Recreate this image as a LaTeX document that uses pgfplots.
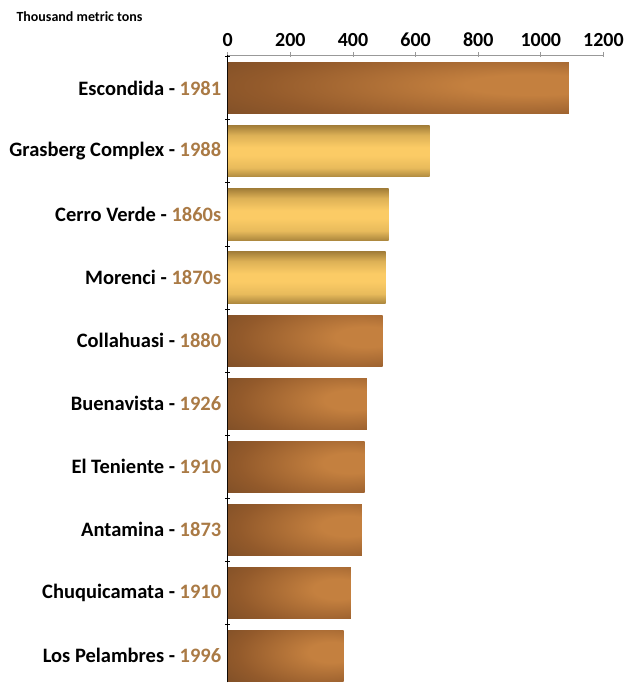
\documentclass[border=0pt]{standalone}
\usepackage{pgfplots}
\pgfplotsset{compat=1.18}
\usepackage{fontspec}
\setmainfont{Carlito}

\definecolor{yearc}{HTML}{AA7A45}
\definecolor{brdark}{HTML}{6A4323}
\definecolor{brmid}{HTML}{935A2B}
\definecolor{brlight}{HTML}{C4803F}
\definecolor{goldtop}{HTML}{A5803A}
\definecolor{goldbot}{HTML}{AE893F}
\definecolor{goldlight}{HTML}{FBCB65}

\pgfdeclareradialshading{brownbar}{\pgfpoint{22bp}{4bp}}{%
  color(0bp)=(brlight); color(10bp)=(brlight); color(35bp)=(brmid); color(60bp)=(brdark); color(100bp)=(brdark)}
\pgfdeclareverticalshading{goldbar}{100bp}{%
  color(0bp)=(goldbot); color(25bp)=(goldbot); color(34bp)=(goldlight!75!goldbot); color(46bp)=(goldlight); color(54bp)=(goldlight); color(66bp)=(goldlight!65!goldtop); color(75bp)=(goldtop); color(100bp)=(goldtop)}

\newcommand{\yr}[1]{\textcolor{yearc}{#1}}

\begin{document}
\begin{tikzpicture}
\begin{axis}[
  scale only axis,
  width=376pt, height=628pt,
  xmin=0, xmax=1200,
  ymin=-0.42, ymax=9.53,
  axis x line*=top,
  axis y line*=left,
  x axis line style={-, draw=gray!80, line width=0.7pt},
  y axis line style={-, draw=black, line width=1.3pt},
  xtick={0,200,...,1200},
  ytick={-0.5,0.5,...,9.5},
  yticklabels={},
  tick align=center,
  major tick length=5pt,
  xtick style={draw=gray!80, line width=0.7pt},
  ytick style={draw=black, line width=1pt},
  extra y ticks={0,1,...,9},
  extra y tick labels={
    {Los Pelambres - \yr{1996}},
    {Chuquicamata - \yr{1910}},
    {Antamina - \yr{1873}},
    {El Teniente - \yr{1910}},
    {Buenavista - \yr{1926}},
    {Collahuasi - \yr{1880}},
    {Morenci - \yr{1870s}},
    {Cerro Verde - \yr{1860s}},
    {Grasberg Complex - \yr{1988}},
    {Escondida - \yr{1981}}},
  extra y tick style={major tick length=0pt, tick style={draw=none}},
  yticklabel style={font=\bfseries\fontsize{20.5}{20.5}\selectfont, xshift=-3pt},
  xticklabel style={font=\bfseries\fontsize{20}{20}\selectfont, yshift=2pt},
  /pgf/number format/assume math mode=true,
  /pgf/number format/1000 sep={},
  scaled x ticks=false,
  clip=false,
  brown/.style={xbar, bar shift=0pt, bar width=0.81, draw=none, shade, shading=brownbar},
  gold/.style={xbar, bar shift=0pt, bar width=0.81, draw=none, shade, shading=goldbar},
]
% brown bars
\addplot[brown] coordinates {(1090,9)};
\addplot[brown] coordinates {(495,5)};
\addplot[brown] coordinates {(444,4)};
\addplot[brown] coordinates {(437,3)};
\addplot[brown] coordinates {(428,2)};
\addplot[brown] coordinates {(393,1)};
\addplot[brown] coordinates {(370,0)};
% gold bars
\addplot[gold] coordinates {(645,8)};
\addplot[gold] coordinates {(514,7)};
\addplot[gold] coordinates {(504,6)};
\end{axis}
\node[anchor=base west, font=\bfseries\fontsize{14}{14}\selectfont]
  at ([xshift=-215pt, yshift=33pt]current axis.north west) {Thousand metric tons};
\path ([xshift=-228pt, yshift=55pt]current axis.north west) rectangle ([xshift=25pt]current axis.south east);
\end{tikzpicture}
\end{document}
